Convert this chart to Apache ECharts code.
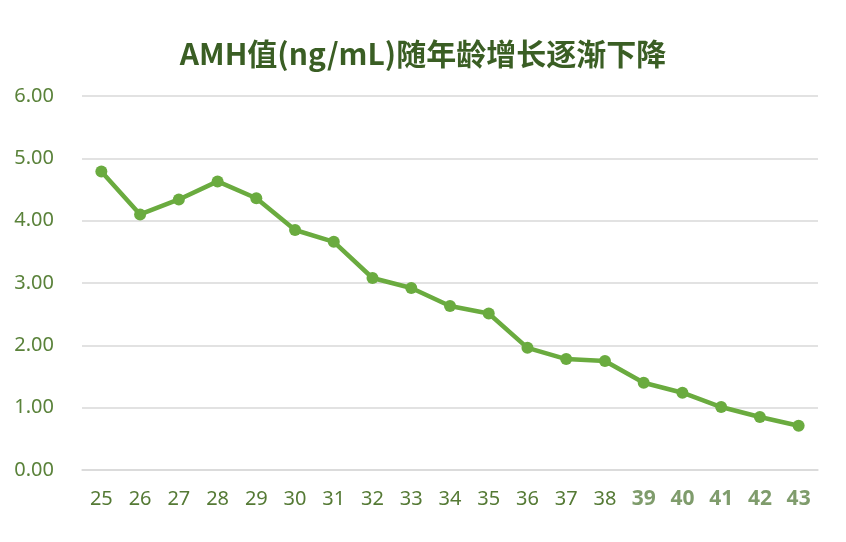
<!DOCTYPE html>
<html>
<head>
<meta charset="utf-8">
<script src="https://cdn.jsdelivr.net/npm/echarts@6/dist/echarts.min.js"></script>
<style>
html,body{margin:0;padding:0;background:#fff;}
#c{width:846px;height:542px;}
</style>
</head>
<body>
<div id="c"></div>
<script>
var titleText = 'AMH值(ng/mL)随年龄增长逐渐下降';
var ages = ['25','26','27','28','29','30','31','32','33','34','35','36','37','38','39','40','41','42','43'];
var amhValues = [4.79, 4.10, 4.34, 4.63, 4.36, 3.85, 3.66, 3.08, 2.92, 2.63, 2.51, 1.96, 1.78, 1.75, 1.40, 1.24, 1.01, 0.85, 0.71];
var yTicks = [0, 1, 2, 3, 4, 5, 6];

var chart = echarts.init(document.getElementById('c'));
chart.setOption({
  backgroundColor: '#ffffff',
  title: {
    text: titleText,
    left: 'center',
    top: 34,
    textStyle: {
      fontFamily: '"Noto Sans CJK SC", "Noto Sans", sans-serif',
      fontWeight: 'bold',
      fontSize: 30,
      color: '#3a5e24'
    }
  },
  grid: { left: 82, right: 28, top: 96, bottom: 72 },
  xAxis: {
    type: 'category',
    data: ages,
    boundaryGap: true,
    axisLine: { show: true, lineStyle: { color: '#d9d9d9', width: 1.5 } },
    axisTick: { show: false },
    axisLabel: {
      interval: 0,
      margin: 19,
      fontFamily: '"Noto Sans", sans-serif',
      fontSize: 20,
      color: '#557a35',
      formatter: function (v) {
        return Number(v) >= 39 ? '{b|' + v + '}' : v;
      },
      rich: {
        b: { fontFamily: '"Noto Sans", sans-serif', fontSize: 21, fontWeight: 'bold', color: '#7f9c6c' }
      }
    }
  },
  yAxis: {
    type: 'value',
    min: yTicks[0],
    max: yTicks[yTicks.length - 1],
    interval: 1,
    axisLine: { show: false },
    axisTick: { show: false },
    splitLine: { lineStyle: { color: '#d9d9d9', width: 1.5 } },
    axisLabel: {
      margin: 28,
      fontFamily: '"Noto Sans", sans-serif',
      fontSize: 20,
      color: '#5a823a',
      formatter: function (v) { return v.toFixed(2); }
    }
  },
  series: [{
    type: 'line',
    data: amhValues,
    symbol: 'circle',
    symbolSize: 12,
    lineStyle: { color: '#6aab3f', width: 4.5 },
    itemStyle: { color: '#6aab3f' },
    animation: false
  }]
});
</script>
</body>
</html>
